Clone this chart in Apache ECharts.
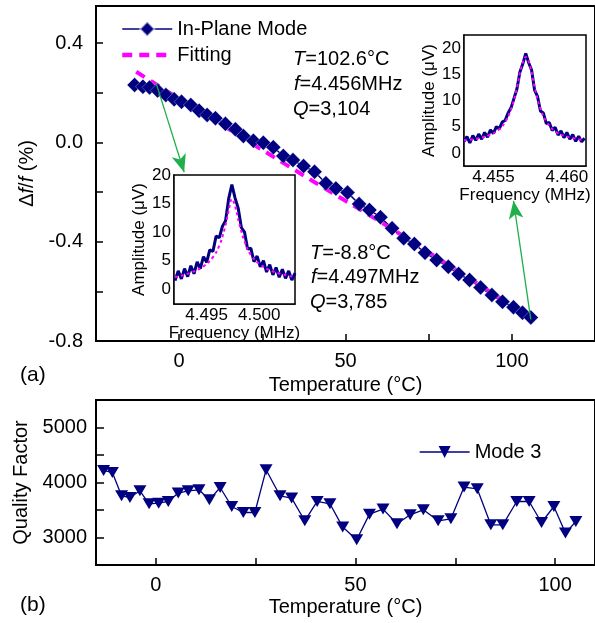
<!DOCTYPE html>
<html>
<head>
<meta charset="utf-8">
<script src="https://cdn.jsdelivr.net/npm/echarts@6/dist/echarts.min.js"></script>
<style>html,body{margin:0;padding:0;background:#fff}#c{width:595px;height:623px}</style>
</head>
<body>
<div id="c"></div>
<script>
// ---- (a) In-plane mode frequency shift ----
const tempA = [-13.4,-10.9,-8.9,-6.5,-4.0,-1.5,0.7,3.5,6.0,8.4,10.9,13.9,16.9,19.3,22.3,25.3,28.3,31.3,34.2,37.4,40.7,44.1,47.1,50.6,54.1,57.2,60.5,64.0,67.5,70.7,73.9,77.4,80.9,84.0,87.3,90.6,94.0,97.2,100.5,103.2,105.7];
const dffA = [0.232,0.225,0.222,0.209,0.191,0.174,0.164,0.151,0.128,0.111,0.098,0.075,0.053,0.026,0.007,-0.001,-0.019,-0.054,-0.071,-0.095,-0.118,-0.164,-0.185,-0.202,-0.248,-0.272,-0.301,-0.346,-0.386,-0.409,-0.444,-0.474,-0.501,-0.530,-0.554,-0.584,-0.615,-0.642,-0.664,-0.686,-0.705];
const fitT = [-12.9,-5,5,15,25,35,45,55,65,75,85,95,105.7];
const fitV = [0.285,0.218,0.135,0.053,-0.030,-0.113,-0.195,-0.275,-0.357,-0.443,-0.528,-0.615,-0.709];
// ---- (b) Quality factor ----
const tempB = [-13.1,-10.9,-8.6,-6.5,-4.0,-1.7,0.7,3.1,5.6,8.1,10.8,13.4,16.1,19.0,21.9,24.8,27.6,31.1,34.0,37.3,40.4,43.6,46.8,50.3,53.5,56.9,60.4,63.7,67.0,70.7,73.9,77.2,80.5,83.9,86.9,90.4,93.5,96.6,99.7,102.6,105.2];
const qB = [4218,4182,3758,3727,3849,3613,3625,3655,3807,3849,3867,3685,3909,3564,3455,3455,4231,3758,3716,3304,3655,3613,3189,2958,3425,3516,3249,3413,3504,3304,3340,3916,3885,3231,3231,3655,3655,3273,3564,3080,3291];
// ---- inset at T=-8.8 C ----
const specLF = [4.4920,4.4923,4.4926,4.4929,4.4932,4.4935,4.4938,4.4941,4.4944,4.4947,4.4950,4.4953,4.4956,4.4959,4.4962,4.4965,4.4968,4.4971,4.4974,4.4977,4.4980,4.4983,4.4986,4.4989,4.4992,4.4995,4.4998,4.5001,4.5004,4.5007,4.5010,4.5013,4.5016,4.5019,4.5022,4.5025,4.5028,4.5031,4.5034];
const specLA = [1.5,3.2,1.8,3.6,2.2,4.1,2.7,4.8,3.6,5.7,4.7,6.9,6.6,9.3,9.0,11.0,12.0,15.9,18.3,16.0,14.2,10.8,10.0,7.0,7.2,4.8,5.8,3.9,5.0,3.0,4.3,2.5,3.8,2.1,3.5,1.9,3.2,1.6,2.8];
const fitLF = [4.4920,4.4935,4.4947,4.4956,4.4962,4.4967,4.4971,4.4974,4.4977,4.4981,4.4986,4.4992,4.5001,4.5013,4.5034];
const fitLA = [2.1,2.9,4.0,5.6,7.6,10.5,13.8,15.8,14.6,11.5,8.4,6.0,4.3,3.1,2.1];
// ---- inset at T=102.6 C ----
const specRF = [4.4530,4.4532,4.4534,4.4536,4.4538,4.4540,4.4542,4.4544,4.4546,4.4548,4.4550,4.4552,4.4554,4.4556,4.4558,4.4560,4.4562,4.4564,4.4566,4.4568,4.4570,4.4572,4.4574,4.4576,4.4578,4.4580,4.4582,4.4584,4.4586,4.4588,4.4590,4.4592,4.4594,4.4596,4.4598,4.4600,4.4602,4.4604,4.4606,4.4608,4.4610,4.4612];
const specRA = [2.2,3.1,1.9,3.3,2.4,3.6,2.6,3.9,3.0,4.4,3.7,5.0,4.6,5.9,6.2,7.6,8.6,10.4,12.2,15.4,17.0,19.0,17.2,15.8,12.0,10.8,8.0,7.6,5.6,5.8,4.3,4.9,3.4,4.2,2.9,3.9,2.6,3.5,2.2,3.2,2.1,2.8];
const fitRF = [4.4530,4.4540,4.4548,4.4554,4.4558,4.4562,4.4566,4.4569,4.4572,4.4575,4.4578,4.4582,4.4586,4.4592,4.4600,4.4612];
const fitRA = [2.4,2.8,3.5,4.5,5.9,8.3,12.4,16.3,18.3,16.5,12.6,8.4,6.0,4.1,3.1,2.4];
// ---- ticks ----
const xTicksA = [0,25,50,75,100], xLabelsA = [0,50,100];
const yTicksA = [-0.8,-0.6,-0.4,-0.2,0,0.2,0.4], yLabelsA = [-0.8,-0.4,0,0.4];
const xTicksB = [0,25,50,75,100], xLabelsB = [0,50,100];
const yTicksB = [3000,3500,4000,4500,5000], yLabelsB = [3000,4000,5000];
const xTicksL = [4.4925,4.4950,4.4975,4.5000,4.5025], xLabelsL = [4.495,4.500];
const xTicksR = [4.4550,4.4575,4.4600], xLabelsR = [4.455,4.460];
const yTicksIn = [0,5,10,15,20];

const zip = (a, b) => a.map((v, i) => [v, b[i]]);
const FONT = 'Liberation Sans, Arial, sans-serif';
const NAVY = '#000080', PINK = '#ff00ff', GREEN = '#1fb04c';
const FS = 20, FSI = 17;

function mainX(grid, ticks, labels, gap) {
  return {type:'value', gridIndex:grid, name:'Temperature (°C)', nameLocation:'middle', nameGap:gap,
    nameTextStyle:{fontSize:FS, fontFamily:FONT, color:'#000'},
    axisLine:{show:true, onZero:false, lineStyle:{color:'#000', width:2}},
    axisTick:{show:true, inside:true, length:7, lineStyle:{width:1.5, color:'#000'}, customValues:ticks},
    axisLabel:{fontSize:FS, fontFamily:FONT, color:'#000', margin:10, customValues:labels, formatter:v=>String(v)},
    splitLine:{show:false}};
}
function insetX(grid, min, max, ticks, labels) {
  return {type:'value', gridIndex:grid, min:min, max:max, name:'Frequency (MHz)', nameLocation:'middle', nameGap:15,
    nameTextStyle:{fontSize:FSI, fontFamily:FONT, color:'#000'},
    axisLine:{show:true, onZero:false, lineStyle:{color:'#000', width:1.5}},
    axisTick:{show:true, inside:true, length:4, lineStyle:{color:'#000'}, customValues:ticks},
    axisLabel:{fontSize:FSI, fontFamily:FONT, color:'#000', margin:3, customValues:labels, formatter:v=>v.toFixed(3)},
    splitLine:{show:false}};
}
function insetY(grid, min, max, gap) {
  return {type:'value', gridIndex:grid, min:min, max:max, name:'Amplitude (μV)', nameLocation:'middle', nameGap:gap,
    nameTextStyle:{fontSize:FSI, fontFamily:FONT, color:'#000'},
    axisLine:{show:true, onZero:false, lineStyle:{color:'#000', width:1.5}},
    axisTick:{show:true, inside:true, length:4, lineStyle:{color:'#000'}, customValues:yTicksIn},
    axisLabel:{fontSize:FSI, fontFamily:FONT, color:'#000', margin:3, customValues:yTicksIn, formatter:v=>String(v)},
    splitLine:{show:false}};
}
const chart = echarts.init(document.getElementById('c'), null, {renderer:'canvas'});
const ital = {i:{fontStyle:'italic', fontSize:FS, fontFamily:FONT, fill:'#000'}};
function txt(x, y, t) {
  return {type:'text', x:x, y:y, z:50, style:{text:t, rich:ital, fontSize:FS, fontFamily:FONT, fill:'#000', verticalAlign:'middle', align:'left'}};
}
chart.setOption({
  animation:false,
  backgroundColor:'#fff',
  grid:[
    {left:96, top:6, width:504, height:335, show:true, borderColor:'#000', borderWidth:2, backgroundColor:'transparent'},
    {left:96, top:400, width:506, height:165, show:true, borderColor:'#000', borderWidth:2, backgroundColor:'transparent'},
    {left:174, top:175, width:121, height:129, show:true, borderColor:'#000', borderWidth:1.5, backgroundColor:'#fff', z:5},
    {left:464, top:35, width:122, height:131, show:true, borderColor:'#000', borderWidth:1.5, backgroundColor:'#fff', z:5}
  ],
  xAxis:[
    Object.assign(mainX(0, xTicksA, xLabelsA, 31), {min:-25, max:125}),
    Object.assign(mainX(1, xTicksB, xLabelsB, 32), {min:-15, max:110}),
    insetX(2, 4.4919, 4.5034, xTicksL, xLabelsL),
    insetX(3, 4.4530, 4.4613, xTicksR, xLabelsR)
  ],
  yAxis:[
    {type:'value', gridIndex:0, min:-0.8, max:0.55, name:'Δ{i|f}/{i|f} (%)', nameLocation:'middle', nameGap:54,
      nameTextStyle:{fontSize:FS, fontFamily:FONT, color:'#000', rich:{i:{fontStyle:'italic', fontSize:FS, fontFamily:FONT, color:'#000'}}},
      axisLine:{show:true, onZero:false, lineStyle:{color:'#000', width:2}},
      axisTick:{show:true, inside:true, length:7, lineStyle:{width:1.5, color:'#000'}, customValues:yTicksA},
      axisLabel:{fontSize:FS, fontFamily:FONT, color:'#000', margin:13, customValues:yLabelsA, formatter:v=>v.toFixed(1)},
      splitLine:{show:false}},
    {type:'value', gridIndex:1, min:2500, max:5500, name:'Quality Factor', nameLocation:'middle', nameGap:57,
      nameTextStyle:{fontSize:FS, fontFamily:FONT, color:'#000'},
      axisLine:{show:true, onZero:false, lineStyle:{color:'#000', width:2}},
      axisTick:{show:true, inside:true, length:8, lineStyle:{width:1.5, color:'#000'}, customValues:yTicksB},
      axisLabel:{fontSize:FS, fontFamily:FONT, color:'#000', margin:9, customValues:yLabelsB, formatter:v=>String(v)},
      splitLine:{show:false}},
    insetY(2, -2.6, 20, 24),
    insetY(3, -2.5, 22.5, 22)
  ],
  legend:[
    {data:[{name:'In-Plane Mode', lineStyle:{width:1.5}},
           {name:'Fitting', itemStyle:{color:'rgba(0,0,0,0)', borderWidth:0, opacity:0}, lineStyle:{width:4.5}}],
      orient:'vertical', left:115, top:14, itemWidth:50, itemHeight:18, itemGap:6,
      textStyle:{fontSize:FS, fontFamily:FONT, color:'#000'}},
    {data:[{name:'Mode 3', lineStyle:{width:1.3}}], orient:'vertical', left:414, top:437, itemWidth:50, itemHeight:15,
      textStyle:{fontSize:FS, fontFamily:FONT, color:'#000'}}
  ],
  series:[
    {name:'In-Plane Mode', type:'line', xAxisIndex:0, yAxisIndex:0, data:zip(tempA, dffA),
      symbol:'diamond', symbolSize:15, color:NAVY, lineStyle:{color:NAVY, width:1.5},
      itemStyle:{color:NAVY, borderColor:'rgba(255,255,255,0.5)', borderWidth:0.6},
      markLine:{silent:true, symbol:['none','arrow'], symbolSize:[11,18], label:{show:false},
        lineStyle:{color:GREEN, width:1.3, type:'solid'}, emphasis:{disabled:true},
        data:[[{coord:[-6.9,0.238]},{coord:[1.5,-0.12]}],[{coord:[105.7,-0.713]},{coord:[100.5,-0.235]}]]}},
    {name:'Fitting', type:'line', xAxisIndex:0, yAxisIndex:0, data:zip(fitT, fitV), smooth:0.3,
      showSymbol:false, symbol:'none', color:PINK, lineStyle:{color:PINK, width:4, type:[10,7]}, z:3},
    {name:'Mode 3', type:'line', xAxisIndex:1, yAxisIndex:1, data:zip(tempB, qB),
      symbol:'triangle', symbolRotate:180, symbolSize:[13,11], color:NAVY,
      lineStyle:{color:NAVY, width:1.3}, itemStyle:{color:NAVY}},
    {name:'specL', type:'line', xAxisIndex:2, yAxisIndex:2, data:zip(specLF, specLA), showSymbol:false, symbol:'none',
      lineStyle:{color:NAVY, width:3}, color:NAVY, z:6},
    {name:'fitL', type:'line', xAxisIndex:2, yAxisIndex:2, data:zip(fitLF, fitLA), smooth:0.4, showSymbol:false, symbol:'none',
      lineStyle:{color:PINK, width:2, type:[3,3]}, color:PINK, z:7},
    {name:'specR', type:'line', xAxisIndex:3, yAxisIndex:3, data:zip(specRF, specRA), showSymbol:false, symbol:'none',
      lineStyle:{color:NAVY, width:3}, color:NAVY, z:6},
    {name:'fitR', type:'line', xAxisIndex:3, yAxisIndex:3, data:zip(fitRF, fitRA), smooth:0.4, showSymbol:false, symbol:'none',
      lineStyle:{color:PINK, width:2, type:[3,3]}, color:PINK, z:7}
  ],
  graphic:[
    txt(293, 59, '{i|T}=102.6°C'),
    txt(294, 84, '{i|f}=4.456MHz'),
    txt(293, 109, '{i|Q}=3,104'),
    txt(310, 253, '{i|T}=-8.8°C'),
    txt(311, 277, '{i|f}=4.497MHz'),
    txt(310, 302, '{i|Q}=3,785'),
    {type:'text', x:20, y:375, style:{text:'(a)', fontSize:21, fontFamily:FONT, fill:'#000', verticalAlign:'middle'}},
    {type:'text', x:20, y:605, style:{text:'(b)', fontSize:21, fontFamily:FONT, fill:'#000', verticalAlign:'middle'}}
  ]
});
</script>
</body>
</html>
